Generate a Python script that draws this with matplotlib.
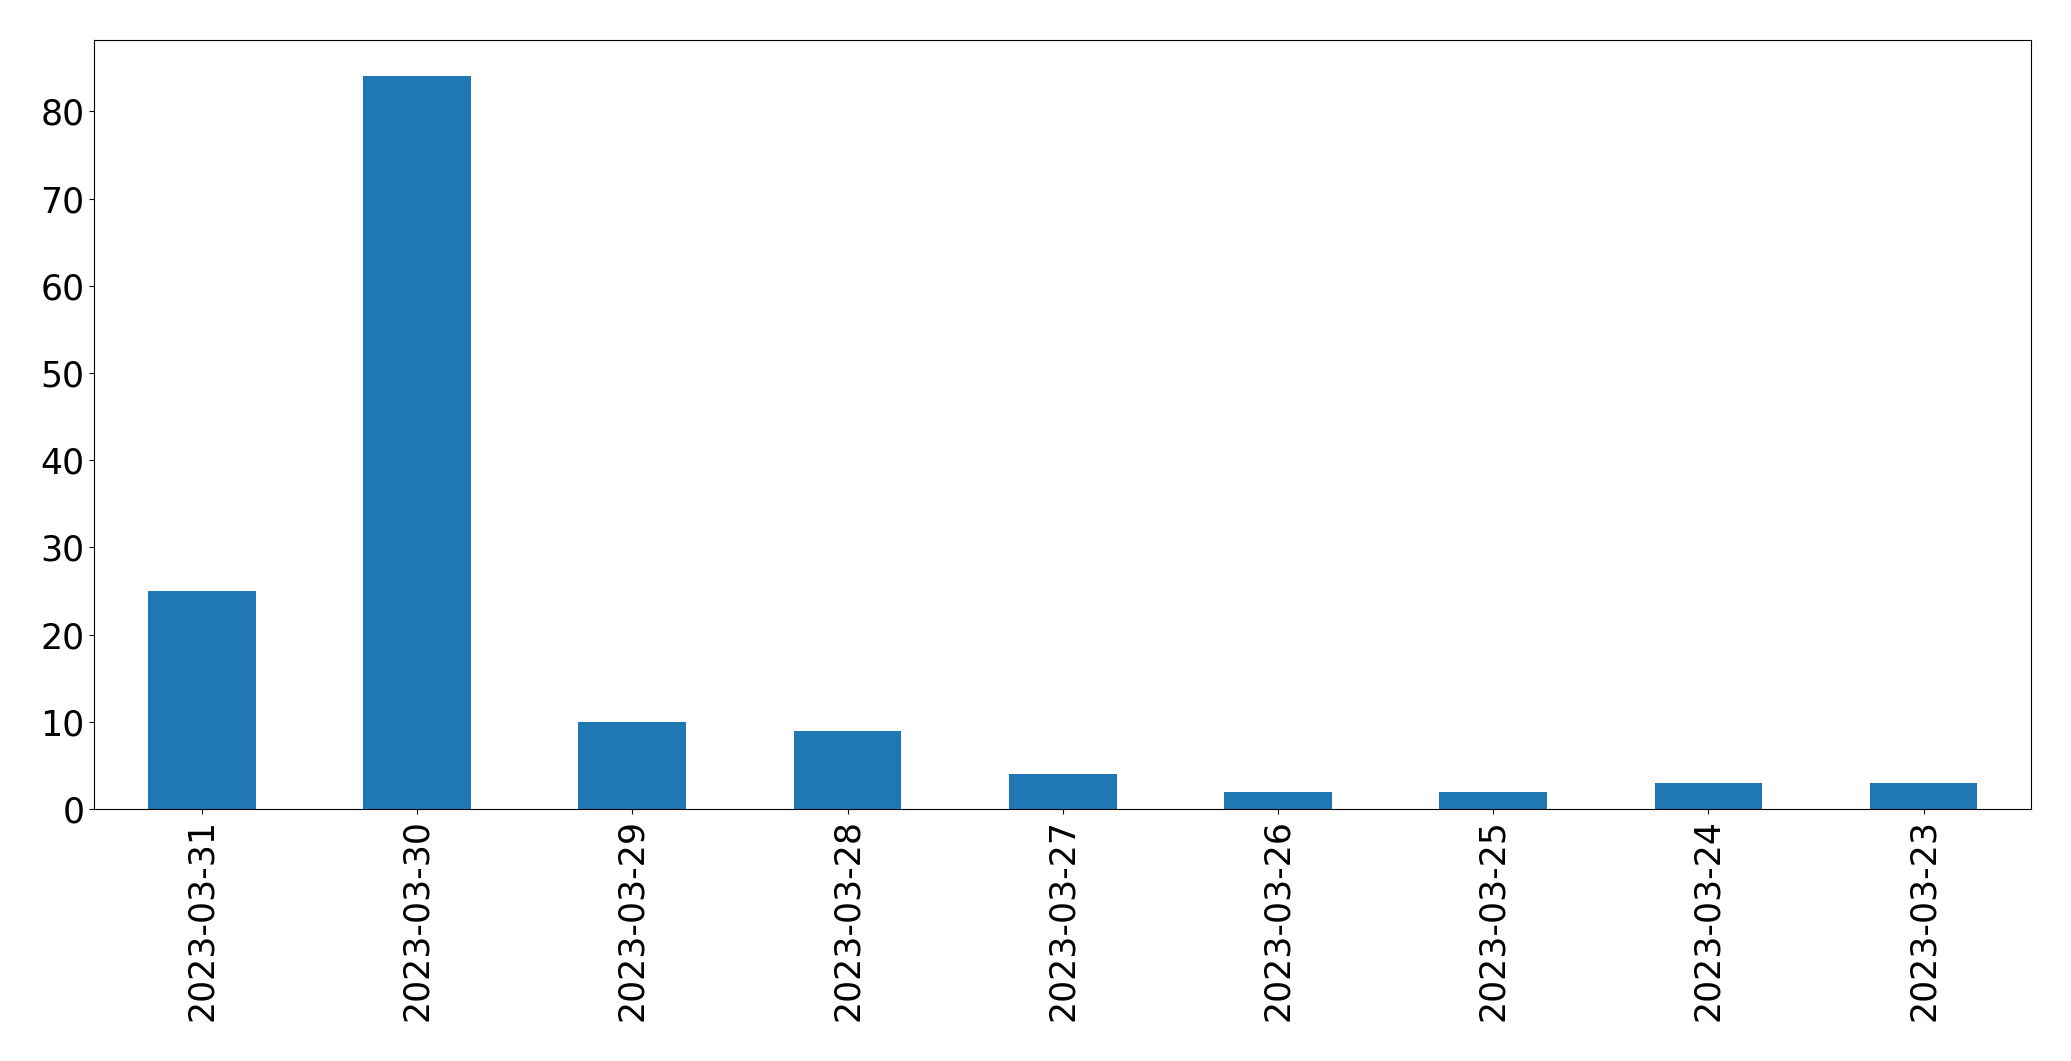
import matplotlib
matplotlib.use("Agg")
import matplotlib.pyplot as plt

dates = ['2023-03-31', '2023-03-30', '2023-03-29', '2023-03-28', '2023-03-27',
         '2023-03-26', '2023-03-25', '2023-03-24', '2023-03-23']
counts = [25, 84, 10, 9, 4, 2, 2, 3, 3]

fig, ax = plt.subplots(figsize=(20.71, 10.61), dpi=100)
fig.subplots_adjust(left=0.0455, right=0.9808, top=0.9625, bottom=0.2375)

x = range(len(dates))
ax.bar(x, counts, width=0.5, color='#1f77b4')
ax.set_xlim(-0.5, len(dates) - 0.5)
ax.set_ylim(0, max(counts) * 1.05)
ax.set_xticks(list(x))
ax.set_xticklabels(dates, rotation=90)
ax.tick_params(axis='both', labelsize=25)

fig.savefig('out.png', dpi=100)
